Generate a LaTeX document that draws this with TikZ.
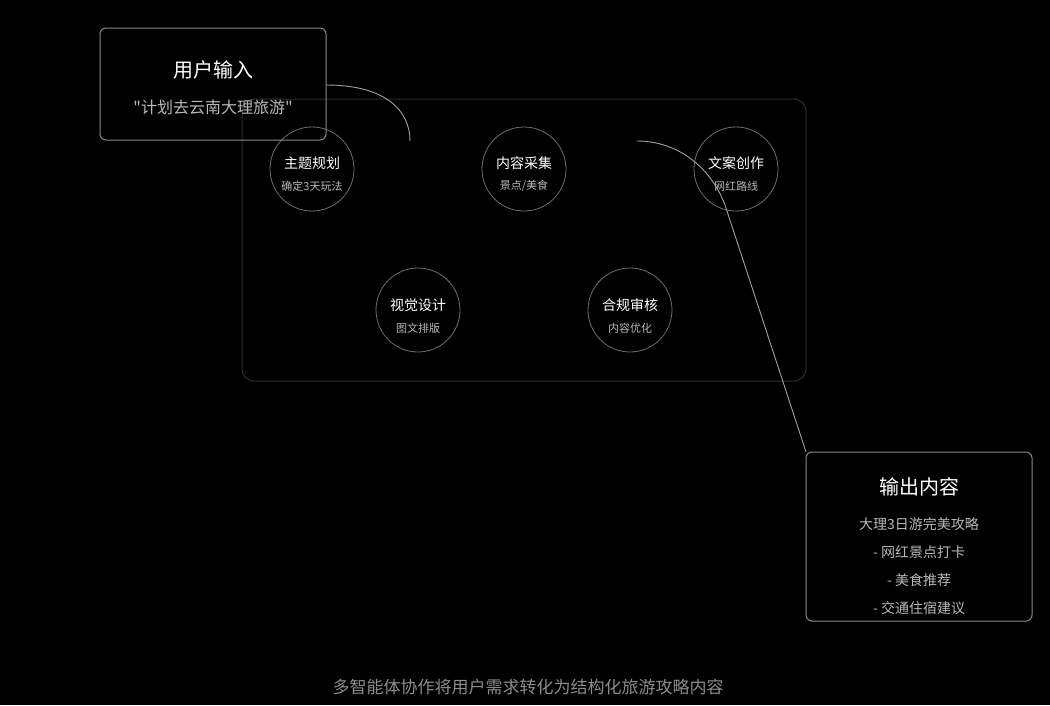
\documentclass[tikz,border=0pt]{standalone}
\usepackage{fontspec}
\setmainfont{Noto Sans CJK SC}[Ligatures=TeXOff]
\tikzset{
  box/.style={draw=boxgray, line width=1pt, rounded corners=6pt},
  agent/.style={draw=circgray, line width=0.8pt, circle, minimum size=84pt, inner sep=0pt},
  ttl/.style={text=white, font=\fontsize{14}{16}\selectfont},
  sub/.style={text=subgray, font=\fontsize{11}{13}\selectfont},
  link/.style={draw=linkgray, line width=0.9pt},
}
\definecolor{boxgray}{HTML}{8A8A8A}
\definecolor{circgray}{HTML}{6E6E6E}
\definecolor{subgray}{HTML}{B8B8B8}
\definecolor{linkgray}{HTML}{A0A0A0}
\definecolor{contgray}{HTML}{2E2E2E}
\definecolor{footgray}{HTML}{8C8C8C}
\begin{document}
\begin{tikzpicture}[x=1pt,y=-1pt]
\fill[black] (0,0) rectangle (1050,705);
\useasboundingbox (0,0) rectangle (1050,705);
% container
\draw[contgray, line width=1pt, rounded corners=12pt] (242,99) rectangle (806,381);
% agents
\node[agent] (a1) at (312,169) {};
\node[ttl] at (312,163) {主题规划};
\node[sub] at (312,186) {确定3天玩法};
\node[agent] (a2) at (524,169) {};
\node[ttl] at (524,163) {内容采集};
\node[sub] at (524,186) {景点/美食};
\node[agent] (a3) at (736,169) {};
\node[ttl] at (736,163) {文案创作};
\node[sub] at (736,186) {网红路线};
\node[agent] (a4) at (418,310) {};
\node[ttl] at (418,305) {视觉设计};
\node[sub] at (418,328) {图文排版};
\node[agent] (a5) at (630,310) {};
\node[ttl] at (630,305) {合规审核};
\node[sub] at (630,328) {内容优化};
% input box
\draw[box] (100,28) rectangle (326,140);
\node[text=white, font=\fontsize{20}{23}\selectfont] (int) at (213,70) {用户输入};
\node[text=subgray, font=\fontsize{16}{19}\selectfont] (inq) at (213,107) {"计划去云南大理旅游"};
% output box
\draw[box] (806,452) rectangle (1032,621);
\node[text=white, font=\fontsize{20}{23}\selectfont] (outt) at (919,487) {输出内容};
\node[text=subgray, font=\fontsize{14}{17}\selectfont] at (919,524) {大理3日游完美攻略};
\node[text=subgray, font=\fontsize{14}{17}\selectfont] at (919,552) {- 网红景点打卡};
\node[text=subgray, font=\fontsize{14}{17}\selectfont] at (919,580) {- 美食推荐};
\node[text=subgray, font=\fontsize{14}{17}\selectfont] at (919,608) {- 交通住宿建议};
% connectors
\coordinate (c1s) at (326,85);
\coordinate (c1e) at (410,141);
\draw[link] (c1s) .. controls (385,85) and (410,110) .. (c1e);
\coordinate (c2s) at (637,141);
\coordinate (c2m) at (725,205);
\coordinate (c2e) at (806,452);
\draw[link] (c2s) .. controls (680,141) and (712,170) .. (c2m) -- (c2e);
% footer
\node[text=footgray, font=\fontsize{17}{20}\selectfont] (foot) at (528,687) {多智能体协作将用户需求转化为结构化旅游攻略内容};
\end{tikzpicture}
\end{document}
